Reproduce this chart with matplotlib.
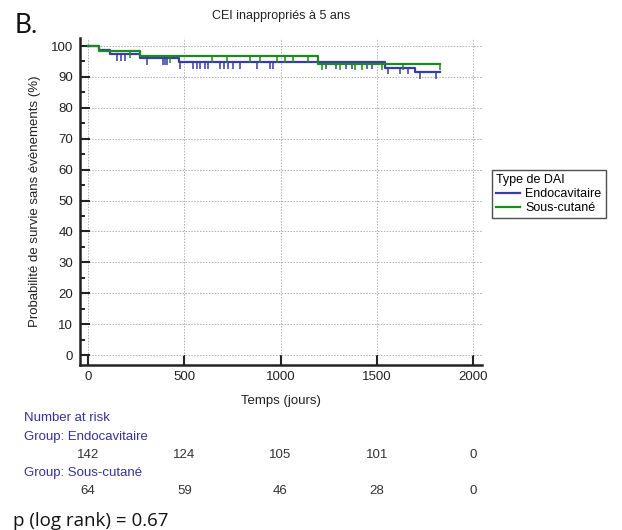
import numpy as np
import matplotlib
matplotlib.use("Agg")
import matplotlib.pyplot as plt
from matplotlib.ticker import MultipleLocator
from matplotlib.transforms import blended_transform_factory

plt.rcParams["font.family"] = ["Liberation Sans", "DejaVu Sans"]

# Kaplan-Meier steps (days, survival %)
endo_t = [0, 57, 115, 270, 470, 1545, 1700, 1830]
endo_s = [100, 98.6, 97.3, 96.1, 94.8, 93.0, 91.5, 91.5]
endo_cens = [151, 171, 192, 306, 390, 400, 410, 478, 545, 566, 582, 608, 623,
             686, 706, 727, 753, 790, 878, 945, 961, 1236, 1288, 1340, 1371,
             1449, 1475, 1560, 1621, 1662, 1725, 1808]

sc_t = [0, 57, 270, 1195, 1830]
sc_s = [100, 98.4, 96.8, 94.3, 94.3]
sc_cens = [218, 426, 644, 722, 842, 894, 982, 1023, 1065, 1143, 1216, 1309,
           1387, 1423, 1527, 1636, 1830]

risk_times = [0, 500, 1000, 1500, 2000]
risk_endo = [142, 124, 105, 101, 0]
risk_sc = [64, 59, 46, 28, 0]

blue = "#3b3ba6"
green = "#1c8a1c"
navy = "#333399"


def surv_at(times, surv, t):
    idx = np.searchsorted(times, t, side="right") - 1
    return np.asarray(surv)[idx]


def draw_curve(ax, times, surv, cens, color, label):
    ax.step(times, surv, where="post", color=color, lw=1.6, label=label)
    y = surv_at(times, surv, cens)
    ax.vlines(cens, y - 2.2, y, color=color, lw=1.1)


fig = plt.figure(figsize=(6.22, 5.30), dpi=100)
ax = fig.add_axes([0.1286, 0.3113, 0.6463, 0.617])

draw_curve(ax, endo_t, endo_s, endo_cens, blue, "Endocavitaire")
draw_curve(ax, sc_t, sc_s, sc_cens, green, "Sous-cutané")

ax.set_xlim(-42, 2047)
ax.set_ylim(-3.2, 102.6)
ax.xaxis.set_major_locator(MultipleLocator(500))
ax.yaxis.set_major_locator(MultipleLocator(10))
ax.yaxis.set_minor_locator(MultipleLocator(5))
ax.tick_params(axis="both", which="major", direction="in", length=7, width=1.5,
               labelsize=9.5, colors="#222222")
ax.tick_params(axis="y", which="minor", direction="in", length=3.5, width=1.2)
ax.tick_params(axis="x", pad=4)
ax.tick_params(axis="y", pad=5)
ax.grid(True, which="major", ls=(0, (1.5, 1.5)), color="#b0b0b0", lw=0.7)
ax.set_axisbelow(True)
for side in ("top", "right"):
    ax.spines[side].set_visible(False)
for side in ("left", "bottom"):
    ax.spines[side].set_linewidth(1.8)
    ax.spines[side].set_color("#222222")

ax.set_title("CEI inappropriés à 5 ans", fontsize=9, pad=14, color="#222222")
ax.set_xlabel("Temps (jours)", fontsize=9.5, labelpad=9, color="#222222")
ax.set_ylabel("Probabilité de survie sans évènements (%)", fontsize=9.5,
              labelpad=7, color="#222222")

leg = ax.legend(title="Type de DAI", loc="upper left",
                bbox_to_anchor=(492 / 622, 1 - 170 / 530),
                bbox_transform=fig.transFigure, borderaxespad=0,
                fontsize=9, title_fontsize=9, frameon=True, fancybox=False,
                edgecolor="#222222", handlelength=1.9, handletextpad=0.4,
                labelspacing=0.15, borderpad=0.35, alignment="left")
leg.get_frame().set_linewidth(1.0)

# number at risk table
tr = blended_transform_factory(ax.transData, fig.transFigure)
fig.text(24 / 622, 1 - 418 / 530, "Number at risk", color=navy, fontsize=9.5,
         va="center")
fig.text(24 / 622, 1 - 437 / 530, "Group: Endocavitaire", color=navy,
         fontsize=9.5, va="center")
fig.text(24 / 622, 1 - 473 / 530, "Group: Sous-cutané", color=navy,
         fontsize=9.5, va="center")
for t, n1, n2 in zip(risk_times, risk_endo, risk_sc):
    ax.text(t, 1 - 455 / 530, str(n1), transform=tr, ha="center", va="center",
            fontsize=9.5, color="#333333")
    ax.text(t, 1 - 491 / 530, str(n2), transform=tr, ha="center", va="center",
            fontsize=9.5, color="#333333")

fig.text(15 / 622, 1 - 33 / 530, "B.", fontsize=19, family=["Lato", "DejaVu Sans"],
         va="baseline", color="#111111")
fig.text(13 / 622, 1 - 526 / 530, "p (log rank) = 0.67", fontsize=13.5,
         family=["Open Sans", "DejaVu Sans"], va="baseline", color="#111111")

fig.savefig("out.png", dpi=100)
